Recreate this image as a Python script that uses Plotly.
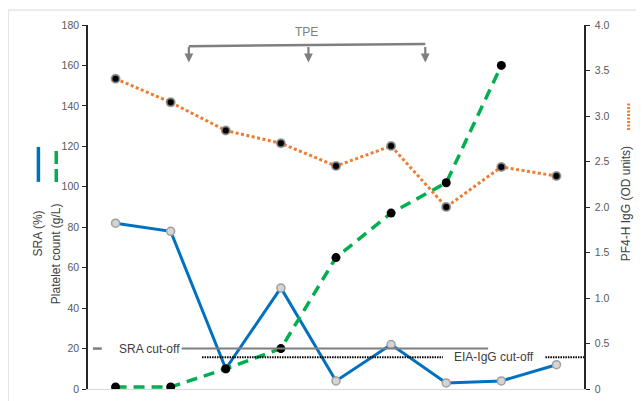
import plotly.graph_objects as go

# ---- data ----
samples = list(range(9))
sra_pct = [82, 78, 10, 50, 4, 22, 3, 4, 12]
platelets = [1, 1, 10, 20, 65, 87, 102, 160]
pf4_igg = [3.41, 3.15, 2.84, 2.70, 2.45, 2.67, 2.00, 2.44, 2.34]
sra_cutoff = 20
eia_cutoff = 0.35
tpe_days = [1.33, 3.5, 5.62]
left_ticks = [0, 20, 40, 60, 80, 100, 120, 140, 160, 180]
right_ticks = [0, 0.5, 1.0, 1.5, 2.0, 2.5, 3.0, 3.5, 4.0]
right_ticktext = ["0", "0.5", "1.0", "1.5", "2.0", "2.5", "3.0", "3.5", "4.0"]

BLUE = "#0070C0"
GREEN = "#00B050"
ORANGE = "#ED7D31"
GRAY = "#7F7F7F"
TXT = "#595959"
FONT = "Liberation Sans"

fig = go.Figure()

fig.add_trace(go.Scatter(
    x=samples, y=pf4_igg, yaxis="y2", mode="lines+markers",
    line=dict(color=ORANGE, width=3, dash="3px,2.5px"),
    marker=dict(color="black", size=8, line=dict(color="rgba(140,140,140,0.8)", width=2)),
    showlegend=False))
fig.add_trace(go.Scatter(
    x=samples, y=sra_pct, mode="lines+markers",
    line=dict(color=BLUE, width=3),
    marker=dict(color="#D4D4D4", size=8, line=dict(color="#A0A0A0", width=1.5)),
    showlegend=False))
fig.add_trace(go.Scatter(
    x=samples[:len(platelets)], y=platelets, mode="lines+markers",
    line=dict(color=GREEN, width=3.5, dash="11px,7px"),
    marker=dict(color="black", size=9),
    showlegend=False))

shapes = []
# SRA cut-off
shapes.append(dict(type="line", xref="x", yref="y", x0=-0.41, x1=-0.25, y0=sra_cutoff, y1=sra_cutoff,
                   line=dict(color=GRAY, width=2.5)))
shapes.append(dict(type="line", xref="x", yref="y", x0=1.2, x1=6.76, y0=sra_cutoff, y1=sra_cutoff,
                   line=dict(color=GRAY, width=2)))
# EIA cut-off
shapes.append(dict(type="line", xref="x", yref="y2", x0=1.57, x1=5.94, y0=eia_cutoff, y1=eia_cutoff,
                   line=dict(color="black", width=2, dash="1.5px,1px")))
shapes.append(dict(type="line", xref="x", yref="y2", x0=7.8, x1=8.5, y0=eia_cutoff, y1=eia_cutoff,
                   line=dict(color="black", width=2, dash="1.5px,1px")))
# TPE bracket
shapes.append(dict(type="line", xref="x", yref="y", x0=tpe_days[0], x1=tpe_days[-1], y0=169.5, y1=170.6,
                   line=dict(color=GRAY, width=2.5)))
# legend glyphs
shapes.append(dict(type="line", xref="paper", yref="paper", x0=-0.1, x1=-0.1, y0=0.569, y1=0.665,
                   line=dict(color=BLUE, width=3.5)))
shapes.append(dict(type="line", xref="paper", yref="paper", x0=-0.064, x1=-0.064, y0=0.569, y1=0.659,
                   line=dict(color=GREEN, width=3.5, dash="13px,5px")))
shapes.append(dict(type="line", xref="paper", yref="paper", x0=1.09, x1=1.09, y0=0.7115, y1=0.788,
                   line=dict(color=ORANGE, width=3, dash="2px,1.5px")))
# outer frame
shapes.append(dict(type="rect", xref="paper", yref="paper", x0=-0.161, x1=1.3, y0=-0.2, y1=1.041,
                   line=dict(color="#D9D9D9", width=1), layer="below"))

annotations = []
annotations.append(dict(text="TPE", x=3.47, y=176.5, xref="x", yref="y", showarrow=False,
                        font=dict(family=FONT, size=12, color=GRAY)))
for d in tpe_days:
    annotations.append(dict(text="", x=d, y=161.5, xref="x", yref="y", showarrow=True,
                            ax=0, ay=-17, arrowhead=2, arrowsize=0.8, arrowwidth=2.2,
                            arrowcolor=GRAY))
annotations.append(dict(text="SRA cut-off", x=0.02, y=sra_cutoff, xref="x", yref="y", xanchor="left",
                        showarrow=False, font=dict(family=FONT, size=12, color="#404040")))
annotations.append(dict(text="EIA-IgG cut-off", x=6.87, y=eia_cutoff, xref="x", yref="y2",
                        showarrow=False, font=dict(family=FONT, size=12, color="#404040")))
annotations.append(dict(text="SRA (%)", x=-0.1, y=0.4286, xref="paper", yref="paper", textangle=-90,
                        xanchor="center", yanchor="middle",
                        showarrow=False, font=dict(family=FONT, size=12, color="#404040")))
annotations.append(dict(text="Platelet count (g/L)", x=-0.064, y=0.371, xref="paper", yref="paper",
                        xanchor="center", yanchor="middle",
                        textangle=-90, showarrow=False, font=dict(family=FONT, size=12, color="#404040")))
annotations.append(dict(text="PF4-H IgG (OD units)", x=1.085, y=0.508, xref="paper", yref="paper",
                        xanchor="center", yanchor="middle",
                        textangle=-90, showarrow=False, font=dict(family=FONT, size=12, color="#404040")))

# page body has an 8px margin, so the figure is sized to fit the 644x401 window
fig.update_layout(
    width=636, height=393,
    margin=dict(l=80, r=60, t=17, b=12, autoexpand=False),
    paper_bgcolor="white", plot_bgcolor="white",
    font=dict(family=FONT, size=10.5, color=TXT),
    xaxis=dict(range=[-0.5, 8.5], showgrid=False, zeroline=False, showticklabels=False,
               showline=True, linecolor="#D9D9D9", linewidth=1, ticks="", automargin=False),
    yaxis=dict(range=[0, 180], tickvals=left_ticks, showgrid=False, zeroline=False,
               showline=True, linecolor="#262626", linewidth=1.5, ticks="outside", ticklen=4,
               tickcolor="#262626", ticklabelstandoff=1, automargin=False,
               tickfont=dict(family=FONT, size=10.5, color=TXT)),
    yaxis2=dict(range=[0, 4], overlaying="y", side="right", tickvals=right_ticks, ticktext=right_ticktext,
                showgrid=False, zeroline=False, showline=True, linecolor="#262626", linewidth=1.5,
                ticks="outside", ticklen=4, tickcolor="#262626", ticklabelstandoff=3, automargin=False,
                tickfont=dict(family=FONT, size=10.5, color=TXT)),
    shapes=shapes, annotations=annotations,
)

fig.write_html("out.html")
